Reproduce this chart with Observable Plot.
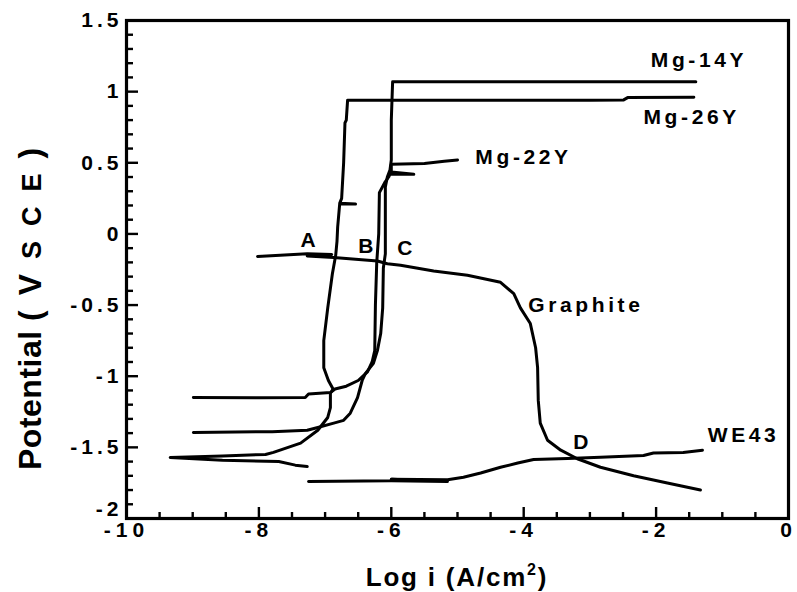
<!DOCTYPE html>
<html>
<head>
<meta charset="utf-8">
<script src="https://cdn.jsdelivr.net/npm/d3@7"></script>
<script src="https://cdn.jsdelivr.net/npm/@observablehq/plot@0.6"></script>
<style>
  body { margin: 0; background: #fff; }
  #chart svg { display: block; }
  g[aria-label="x-axis tick label"] text { letter-spacing: 5px; }
  g[aria-label="y-axis tick label"] text { letter-spacing: 4px; }
  g[aria-label="text"] text { letter-spacing: 3.6px; }
</style>
</head>
<body>
<div id="chart"></div>
<script>
// ---- data (log i in A/cm^2, potential in V vs SCE) ----
const xTicks = [-10, -8, -6, -4, -2, 0];
const xTickLabels = ["-10", "-8", "-6", "-4", "-2", "0"];
const xMinor = [-9.5, -9, -8.5, -7.5, -7, -6.5, -5.5, -5, -4.5, -3.5, -3, -2.5, -1.5, -1, -0.5];
const yTicks = [-2, -1.5, -1, -0.5, 0, 0.5, 1, 1.5];
const yTickLabels = ["-2", "-1.5", "-1", "-0.5", "0", "0.5", "1", "1.5"];
const yMinor = [-1.9,-1.8,-1.7,-1.6,-1.4,-1.3,-1.2,-1.1,-0.9,-0.8,-0.7,-0.6,-0.4,-0.3,-0.2,-0.1,
                0.1,0.2,0.3,0.4,0.6,0.7,0.8,0.9,1.1,1.2,1.3,1.4];

const mg26Y = [
  [-7.27,-1.635],[-7.45,-1.625],[-7.7,-1.6],[-8.55,-1.59],[-9.34,-1.571],
  [-8.55,-1.56],[-7.9,-1.55],[-7.78,-1.535],[-7.37,-1.47],[-7.11,-1.38],[-6.96,-1.29],
  [-6.92,-1.22],[-6.92,-1.12],[-6.88,-1.09],[-6.95,-1.03],[-7.02,-0.94],[-7.02,-0.75],
  [-6.96,-0.52],[-6.89,-0.28],[-6.84,-0.15],[-6.82,-0.05],[-6.81,0.05],[-6.78,0.21],
  [-6.54,0.21],[-6.78,0.215],[-6.75,0.25],[-6.72,0.5],[-6.70,0.78],[-6.68,0.80],
  [-6.66,0.94],[-3.0,0.94],[-2.49,0.942],[-2.43,0.958],[-1.43,0.96]
];
const mg14Y = [
  [-8.99,-1.395],[-7.8,-1.39],[-7.27,-1.38],[-7.11,-1.36],[-6.87,-1.33],[-6.72,-1.31],
  [-6.62,-1.26],[-6.51,-1.15],[-6.44,-1.03],[-6.39,-0.98],[-6.27,-0.91],[-6.21,-0.82],
  [-6.16,-0.70],[-6.13,-0.52],[-6.12,-0.24],[-6.09,-0.14],[-6.09,0.33],[-6.06,0.40],
  [-6.02,0.45],[-6.0,0.52],[-6.0,0.8],[-5.98,1.07],[-1.40,1.07]
];
const mg22Y = [
  [-8.99,-1.15],[-8.0,-1.152],[-7.3,-1.15],[-7.25,-1.125],[-6.92,-1.115],[-6.85,-1.09],
  [-6.68,-1.07],[-6.5,-1.03],[-6.36,-0.97],[-6.29,-0.90],[-6.25,-0.82],[-6.24,-0.5],
  [-6.22,-0.2],[-6.19,0.0],[-6.18,0.29],[-6.1,0.36],[-6.04,0.40],[-6.02,0.42],
  [-5.66,0.42],[-6.0,0.435],[-6.0,0.49],[-5.5,0.495],[-5.2,0.51],[-5.0,0.52]
];
const graphite = [
  [-8.02,-0.158],[-7.27,-0.14],[-6.9,-0.145],[-7.27,-0.155],[-6.87,-0.165],[-6.21,-0.19],
  [-6.06,-0.21],[-5.86,-0.22],[-5.36,-0.26],[-4.85,-0.29],[-4.35,-0.34],[-4.15,-0.42],
  [-4.05,-0.52],[-3.90,-0.63],[-3.82,-0.80],[-3.79,-0.94],[-3.78,-1.17],[-3.75,-1.33],
  [-3.64,-1.45],[-3.44,-1.52],[-3.19,-1.58],[-2.84,-1.64],[-2.34,-1.70],[-1.83,-1.75],[-1.33,-1.80]
];
const we43 = [
  [-7.25,-1.74],[-6.0,-1.735],[-5.15,-1.74],[-6.0,-1.725],[-5.15,-1.728],[-4.91,-1.71],
  [-4.65,-1.68],[-4.35,-1.64],[-4.09,-1.61],[-3.85,-1.585],[-3.34,-1.578],[-3.14,-1.575],
  [-2.84,-1.57],[-2.19,-1.557],[-2.04,-1.54],[-1.59,-1.536],[-1.30,-1.52]
];

const labelNames = ["Mg-14Y", "Mg-26Y", "Mg-22Y", "Graphite", "WE43", "A", "B", "C", "D"];
const labelX = [-2.08, -2.19, -4.73, -3.93, -1.22, -7.37, -6.50, -5.91, -3.25];
const labelY = [1.219, 0.818, 0.537, -0.503, -1.413, -0.046, -0.088, -0.102, -1.466];

// ---- build tables ----
const curves = [["Mg-26Y", mg26Y], ["Mg-14Y", mg14Y], ["Mg-22Y", mg22Y], ["Graphite", graphite], ["WE43", we43]];
const rows = curves.flatMap(([name, pts]) => pts.map(([x, y]) => ({series: name, x, y})));
const labels = labelNames.map((t, i) => ({t, x: labelX[i], y: labelY[i]}));
const xFmt = new Map(xTicks.map((t, i) => [t, xTickLabels[i]]));
const yFmt = new Map(yTicks.map((t, i) => [t, yTickLabels[i]]));

const W = 797, H = 592, mL = 126, mR = 9, mT = 20, mB = 74;
const plotW = W - mL - mR, plotH = H - mT - mB;

const chart = Plot.plot({
  width: W, height: H,
  marginLeft: mL, marginRight: mR, marginTop: mT, marginBottom: mB,
  style: {fontFamily: "'Liberation Sans', Arial, sans-serif", fontWeight: "bold", background: "#fff", color: "#000"},
  x: {domain: [-10, 0]},
  y: {domain: [-2, 1.5]},
  marks: [
    Plot.axisX({ticks: xTicks, tickFormat: d => xFmt.get(d), tickSize: 0, tickPadding: 4, fontSize: 21, label: null}),
    Plot.axisY({ticks: yTicks.slice(1), tickFormat: d => yFmt.get(d), tickSize: 0, tickPadding: 4, fontSize: 21, label: null}),
    Plot.axisY({ticks: yTicks.slice(0, 1), tickFormat: d => yFmt.get(d), tickSize: 0, tickPadding: 4, fontSize: 21, dy: -9, label: null}),
    Plot.tickX(xTicks, {x: d => d, insetTop: plotH - 11, strokeWidth: 2.4}),
    Plot.tickX(xMinor, {x: d => d, insetTop: plotH - 6, strokeWidth: 2.4}),
    Plot.tickY(yTicks, {y: d => d, insetRight: plotW - 12, strokeWidth: 2.4}),
    Plot.tickY(yMinor, {y: d => d, insetRight: plotW - 7, strokeWidth: 2.4}),
    Plot.line(rows, {x: "x", y: "y", z: "series", stroke: "#000", strokeWidth: 3,
                     strokeLinejoin: "round", strokeLinecap: "round"}),
    Plot.text(labels, {x: "x", y: "y", text: "t", textAnchor: "start", lineAnchor: "middle",
                       fontSize: 21, fontWeight: "bold", fill: "#000"}),
    Plot.frame({stroke: "#000", strokeWidth: 3.2})
  ]
});

const svg = d3.select(chart);
// axis titles
const yt = svg.append("text")
  .attr("transform", `translate(41, 470) rotate(-90)`)
  .attr("text-anchor", "start")
  .attr("font-size", 32).attr("font-weight", "bold");
yt.append("tspan").style("letter-spacing", "0.5px").text("Potential ");
yt.append("tspan").style("letter-spacing", "15px").text("(V");
yt.append("tspan").attr("font-size", 27).style("letter-spacing", "15px").text("SCE");
yt.append("tspan").text(")");

const xt = svg.append("text")
  .attr("x", mL + plotW / 2).attr("y", 586)
  .attr("text-anchor", "middle")
  .attr("font-size", 26).attr("font-weight", "bold")
  .style("letter-spacing", "1.8px");
xt.append("tspan").text("Log i (A/cm");
xt.append("tspan").attr("font-size", 16).attr("dy", -11).text("2");
xt.append("tspan").attr("dy", 11).text(")");

document.getElementById("chart").appendChild(chart);
</script>
</body>
</html>
